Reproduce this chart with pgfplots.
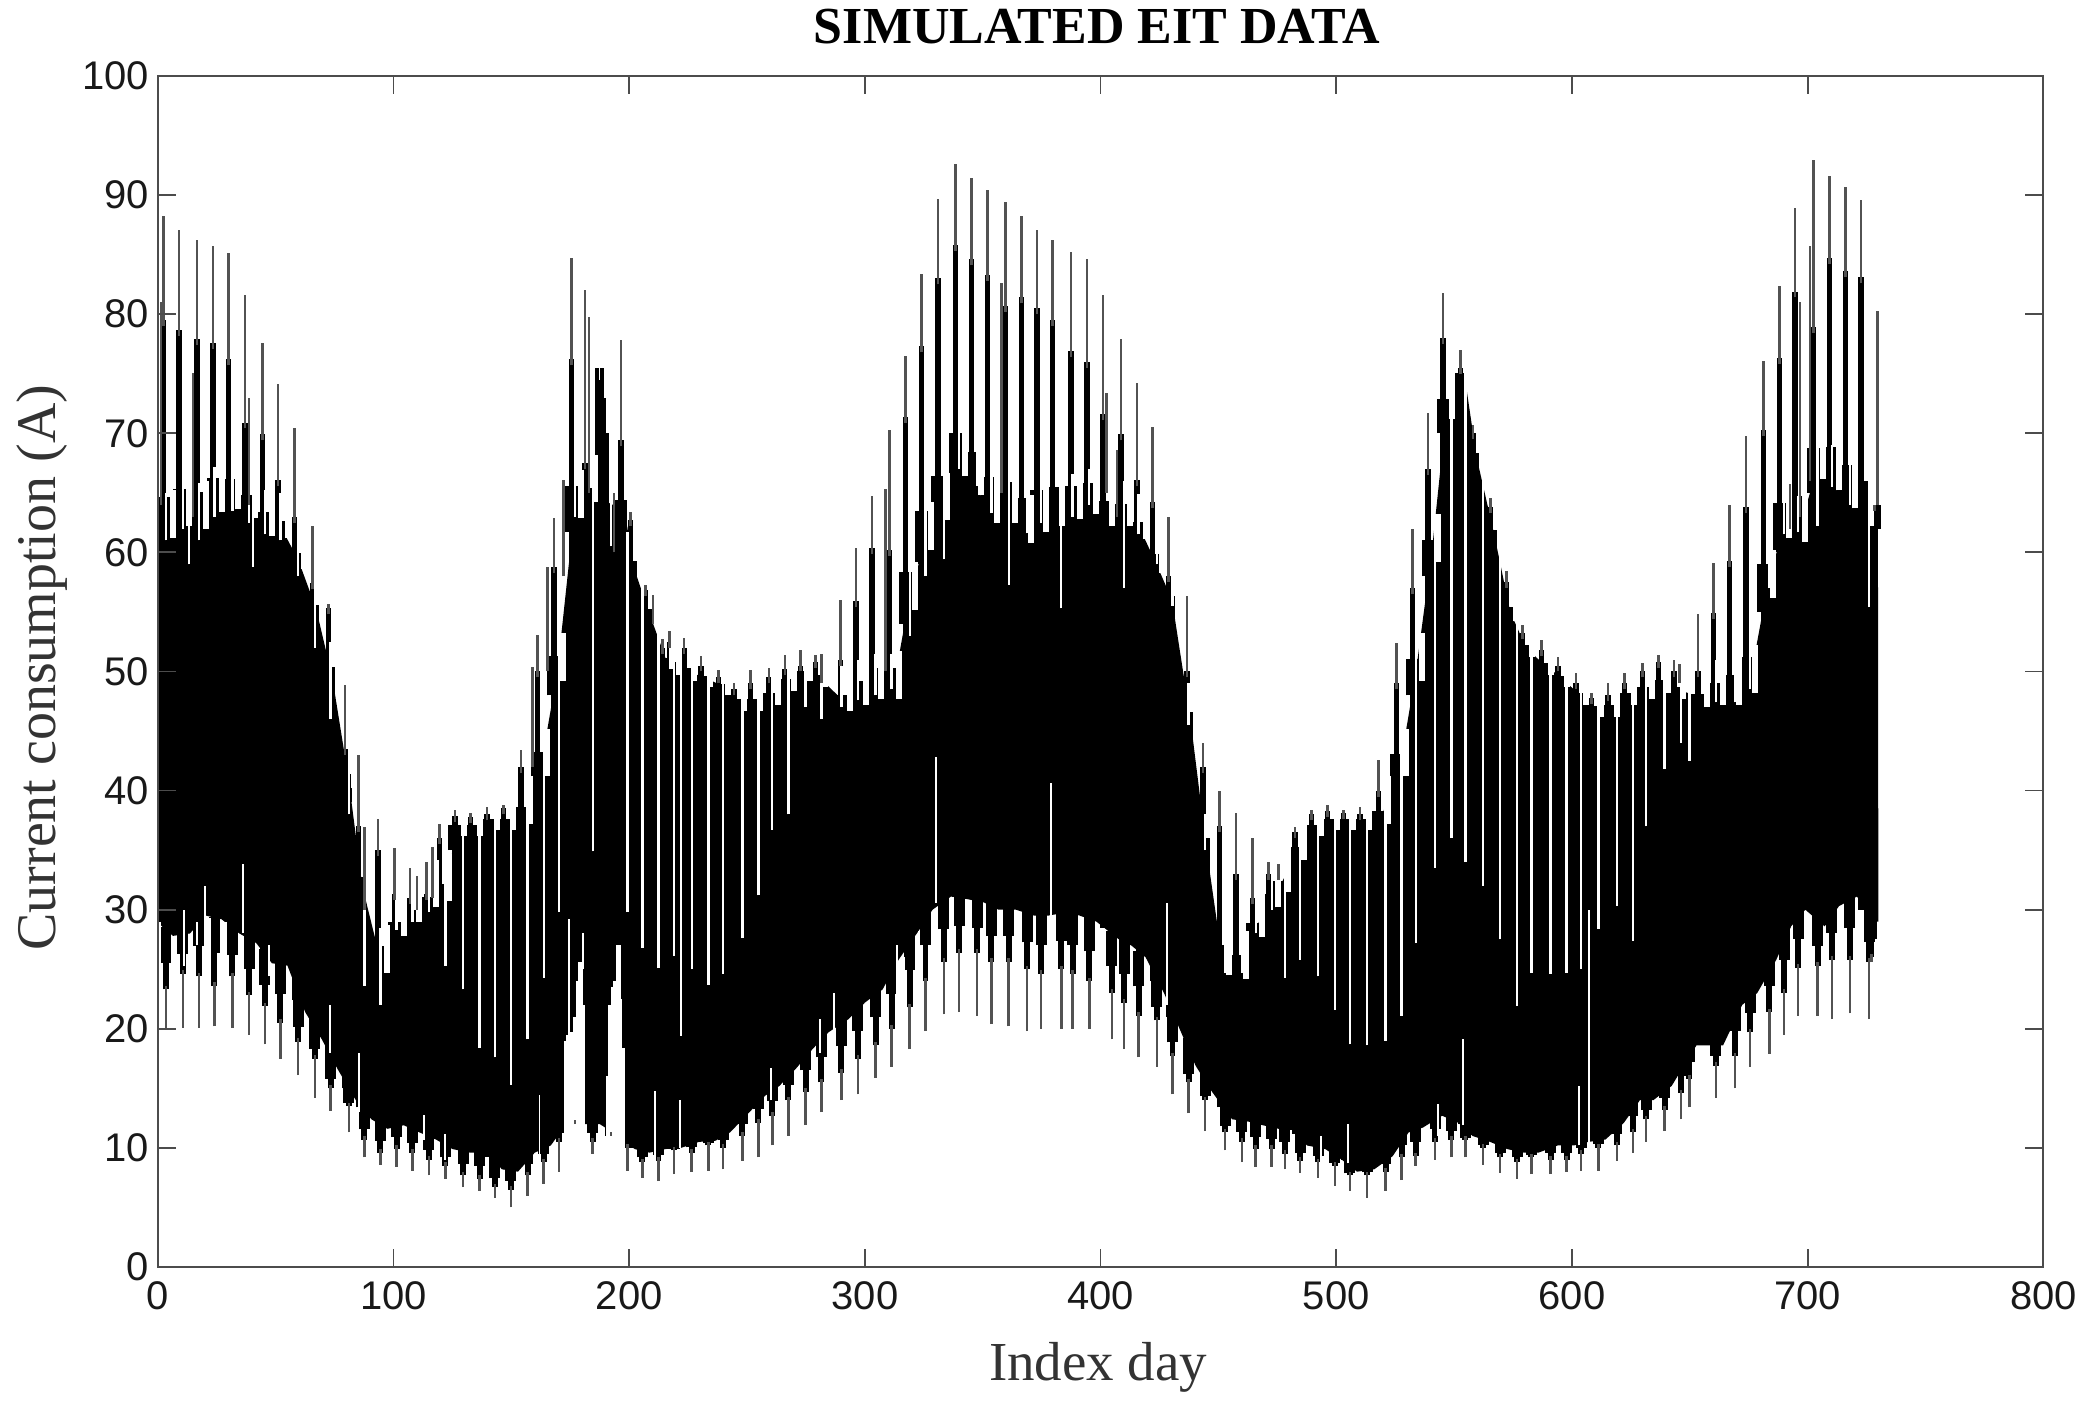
\documentclass[border=0pt]{standalone}
\usepackage{fontspec}
\setmainfont{Liberation Serif}
\newfontfamily\arial{Liberation Sans}
\usepackage{pgfplots}
\usepackage{pgfplotstable}
\pgfplotsset{compat=1.18}
\usepgfplotslibrary{fillbetween}

% one row per week: top spike, column, body top, low day (gap bottom, low spike, low column, body bottom)
\pgfplotstableread{
sx T S H gx G M L U
-4.7 64 64 63.5 -3.6 63 25 27 29
2.3 88.2 79.5 62 3.4 61 20.1 23.3 27.8
9 87.1 78.7 63 10.6 62 20.1 24.6 28
16.5 86.2 77.9 62.8 17.4 61 20.1 24.4 29.5
23.4 85.7 77.6 64.2 24 63 20.2 23.6 29.2
30 85.1 76.2 64.4 31.6 63.5 20.1 24.4 28
37 81.6 70.9 63.7 38.7 62.5 19.5 22.8 27.2
44.4 77.6 69.9 62.2 45.4 61.5 18.7 21.9 25.5
51 74.1 66.1 62 52 61 17.5 20.5 25.3
58 70.4 63 59.4 59.5 58 16.1 18.9 21.4
65.6 62.2 57.4 55.3 66.6 52 14.2 17.5 19.1
72.5 55.7 55.3 49.5 73.3 46 13.1 15 16.6
79.4 48.9 43.5 41 81 38 11.3 13.5 14
85.2 43 37 32 87.6 23.6 9.2 10.7 12.4
93.3 37.6 35 25.5 94.4 22 8.6 9.6 11.6
100.4 35.2 31.3 28.6 101.3 28.3 8.4 9.9 11.9
107 33.5 31 29.8 108 29 8.1 9.6 11.3
114 34 31.3 31 115 29.8 7.7 9 10.7
119.5 37.2 36 31.5 122 25.3 7.4 8.5 9.9
126 38.4 37.9 37 129.5 23.3 6.7 7.7 9.6
132.7 38.1 37.8 37 136.5 18.4 6.4 7.4 9.6
139.7 38.6 38 37.5 143 17.6 5.8 6.7 8.2
146.6 38.8 38.5 37.5 149.8 15.3 5 6.5 8
154 43.4 42 38 156.9 19.1 6 7.7 9.6
161 53.1 50 42 163.7 24.3 7 8.8 10.2
168 62.9 58.8 50 170.3 29.8 8 10.5 12
175.4 84.7 76.2 63.7 177 63 12 12 12
181.3 82 67.5 65 184.5 34.9 9.5 10.5 12
196.5 77.8 69.4 63.5 192.2 60.5 11 11 11
200.5 63.4 62.7 58.7 199.3 29.8 8.1 10 9.9
206.8 57.3 56.8 55 205.6 26.8 7.5 8.8 9.6
214.1 52.7 52 51 212.4 25.1 7.2 8.9 9.9
217 53.4 52.5 50.5 219 26.1 7.8 9.8 10
223.3 52.8 52 50 226.5 25 8 9.6 10.5
230.4 51.3 50.5 49.5 233.6 23.7 8.1 10.2 10.6
237.8 50.1 49.5 48.8 239.8 24.6 8.2 10 11.3
244.5 49 48.5 47.5 248 27.6 8.9 11 13
251.5 50.1 49 47.5 254.8 31.2 9.2 12.1 14.4
259.3 50.3 49.5 48 260.7 36.7 10.2 12.7 15.2
266 51.4 50.2 49.2 267.5 38 11 14 16.6
272.7 51.8 50.5 50 274.8 47 11.9 14.7 18.3
279 51.4 50.8 49.5 281.5 46 13 15.5 19.7
289.6 56 51 47.5 290 47 14 16.3 20.8
296.3 60.4 55.9 48 297 47.6 14.5 17.5 22.2
303 64.7 60.4 48.5 304.5 48 15.9 18.6 23.3
310.4 70.3 60.2 48.5 311.3 48.5 16.8 20 25.8
317.2 76.5 71.4 56 319 53 18.3 21.8 28
324 83.4 77.3 61 325.7 58 19.8 24 30
330.9 89.7 83 63.5 333.5 59.4 21.2 25.6 31.1
338.4 92.6 85.8 67.2 340 67 21.4 26.4 30.9
345.2 91.4 84.6 65.6 347.6 65.6 21.1 26.4 30.6
352 90.4 83.3 63.3 353.7 63.3 20.4 25.6 30
359.6 89.4 80.7 63.3 361 57.3 20.2 25.6 30
366.4 88.2 81.4 61.6 368.8 61.6 19.8 25 29.5
373 87.1 80.5 62.5 374.8 62.5 20 24.6 29.5
379.6 86.2 79.5 63 383.3 55.3 20 25 29.8
387.4 85.2 76.9 63.6 388.1 63 20 24.6 29.5
394.2 84.6 76 64 395.2 64 20 24 29
401 81.6 71.6 63 404.8 62.5 19.1 23 27.5
408.6 77.9 69.9 63 410 57 18.3 22.2 27
415.4 74.2 66.1 61.9 416.1 61.5 17.6 21.1 26
422 70.5 64.2 59.1 423.9 59 16.8 20.7 23
428.8 63 58 56 430.5 55.5 14.5 17.7 20
436.6 56.3 50 46 437.3 45.5 12.9 15.5 16.9
443.5 44 42 35 444.3 35 11.4 14 14.7
450.5 40 37 25.3 452.8 24.7 9.8 11.3 12.4
457.5 38.1 33 25 459.9 24.7 8.8 10.5 12.2
464.4 36 31 28.5 465.8 28 8.4 9.9 11.9
471.2 34 33 31 472.6 30 8.4 9.9 11.6
475.4 33.8 33 32.3 478.2 24.3 8.2 9.5 11.5
482.5 36.9 36.5 35 484.6 25.8 7.9 8.9 10.2
489.5 38.4 38 37 492.3 24.4 7.5 8.8 9.9
496.2 38.8 38.3 37.5 499.4 21.6 6.8 8.5 9
503 38.4 38.1 37.5 505.8 18.7 6.4 7.7 8
510 38.6 38 37.5 513.1 18.6 5.8 7.7 8.2
518 42.6 40 38 520.9 19 6.4 8 9.3
525.5 52.4 49 42 527.7 21.1 7.3 9.2 11.3
532.3 62 57 50 533.7 27.2 8.5 9.3 11.7
539 71.7 67 60 541.9 33.5 9 10.5 12.7
545.3 81.8 78 72 548.8 36 9.2 10.7 12.1
552.8 77 75.5 75 554.8 34 9.2 10.7 11
558 70.7 70 68 562.3 32 8.6 10 10.5
565.5 64.6 63.8 61.5 569.5 27.5 7.9 9.2 9.9
572.3 58.4 57.5 55 576.7 21.9 7.4 8.8 9.6
579 53.9 53.2 52 582.8 24.7 7.8 9.2 9.6
587 52.6 51.8 50.5 590.9 24.6 7.8 9 10.2
594 51.2 50.5 49.5 597.7 24.7 8 9 10.2
601.8 49.9 49 48 603.9 25 8.1 9.5 10.5
608.2 48.2 47.8 47 611.2 28.4 8.1 10 10.7
615.2 49 48 47 619 30.3 8.9 10.2 12.1
622.3 49.9 49 48 625.8 27.4 9.6 11.3 14
630 50.7 50 48.5 631.5 37 10.5 12.4 14
636.7 51.4 50.8 49 639.3 41.8 11.4 13.2 15.2
643.2 51 50 48.5 646.3 44 12.4 14.6 17.5
653.4 54.8 50 47.8 649.8 42.5 13.4 15.8 18.6
660 59.1 54.9 48 661.1 47.4 14.2 16.9 18.6
666.8 64 59.3 48 669.2 47.4 15 17.7 22
673.8 69.8 63.8 49 675.6 48.5 16.8 19.7 23
681.3 76.1 70.3 57 683.7 57 17.9 21.4 25.8
688 82.4 76.3 62 690 61.5 19.5 23 28.6
694.7 88.9 81.9 61.7 696 61.7 21.1 25.1 30
702.4 92.9 78.9 67 704.2 62.2 21.1 25.3 28.6
709.2 91.6 84.7 66 710.3 65.5 20.8 25.8 30.3
716 90.7 83.6 64.5 717.9 64 21.3 25.8 31.1
722.7 89.6 83.1 63 726.1 55.4 20.8 25.6 29
728.3 64 64 64 727 63 25.6 26 29
}\weeks

% second thin spikes
\pgfplotstableread{
x lo hi
1.3 64 81
14.8 63 75.1
38.6 64 73
87.7 30 36.9
110 30 32.8
116.6 31 35.3
159 42 50.4
165.4 50 58.8
172 58 66.1
183 65 79.8
193.6 60 65
210 54 56.4
281.6 49 51.5
308.7 50 65.3
357.9 65 82.6
402.4 65 73.4
406.9 63 68.6
645.6 49 50.6
692.5 62 65.7
696.7 63 81
701 66 85.7
729.6 64 80.3
}\thin

% thick block around day 188
\pgfplotstableread{
x lo hi
186.5 40 75.5
187.5 40 74.5
188.5 40 75.5
189.5 40 73
190.5 40 70
}\block

% single white lines inside the body
\pgfplotstableread{
x lo hi
13.3 59 66
40.4 58.8 66
1 24 29
11 25.3 30
16.5 27 29
20 25.5 32
22 24 29.3
29 24 29
36 28 33.8
47 24.4 27
73 18 22
85.2 13 18
113 10.7 12.8
122 9 11.2
161.9 9 14.4
174.6 19 29.2
180.2 25 28
210.9 8.8 14.8
221.9 19.4 52
221.5 10 14
260 14 16.7
281 18 20.8
286.9 19.7 23
313.6 22.5 27
316.5 22 26
322.9 27 28.2
330 30.6 42.8
379 29.5 40.6
428 22 30.6
493.6 8 11
505 8.7 12
543 11 13.7
553.6 11.9 19.1
603 10.2 15.2
607.1 9.5 30
}\whites

% the two white notches under the body near days 177 and 194
\pgfplotstableread{
x hi
172.9 19
173.9 19.5
174.9 19.7
175.9 19.7
176.9 21
177.9 24
178.9 25.6
179.9 25.6
180.7 22
190.8 16
191.8 22
192.8 23.5
193.8 24
194.8 27
195.8 27
196.5 22.5
197.5 18.4
}\notches

\pgfplotsset{vbar/.style n args={2}{draw=none, mark=none, forget plot,
    error bars/.cd, y dir=plus, y explicit, error mark=none,
    error bar style={line width=#1, draw=#2, solid}}}
\definecolor{axisgrey}{gray}{0.3}
\definecolor{spike}{gray}{0.32}

\begin{document}
\begin{tikzpicture}
\begin{axis}[
    at={(63.2pt,56pt)}, anchor=south west,
    scale only axis, width=754.8pt, height=476.8pt,
    xmin=0, xmax=800, ymin=0, ymax=100,
    xtick distance=100, ytick distance=10,
    tick align=inside, tickwidth=7.2pt,
    axis line style={line width=0.8pt, axisgrey},
    every tick/.style={line width=0.7pt, axisgrey},
    axis on top,
    /pgf/number format/assume math mode=true,
    tick label style={font=\arial\fontsize{16}{16}\selectfont, black!90},
    xticklabel style={yshift=-2.5pt},
    title={\textbf{SIMULATED EIT DATA}},
    title style={font=\fontsize{20.8}{22}\selectfont, at={(axis description cs:0.5,1)}, anchor=center, yshift=13.8pt, xshift=-1.5pt},
    xlabel={Index day},
    xlabel style={font=\fontsize{22}{24}\selectfont, at={(axis description cs:0.5,0)}, anchor=center, yshift=-40pt, xshift=-1pt, black!80},
    ylabel={Current consumption (A)},
    ylabel style={font=\fontsize{22.4}{24}\selectfont, at={(axis description cs:0,0.5)}, anchor=center, yshift=46.4pt, xshift=1.5pt, black!80},
]
% body of the band
\addplot[name path=top, draw=none, forget plot] table[x expr=\thisrow{sx}+1.5, y=H] {\weeks};
\addplot[name path=bot, draw=none, forget plot] table[x expr=\thisrow{gx}+3, y=U] {\weeks};
\addplot[black, forget plot] fill between[of=top and bot];
% humps and columns
\addplot[vbar={5.2pt}{black}] table[x=sx, y expr=\thisrow{H}-2, y error plus expr=2+0.15*(\thisrow{S}-\thisrow{H})] {\weeks};
\addplot[vbar={2.2pt}{black}] table[x=sx, y expr=\thisrow{U}+1, y error plus expr=\thisrow{S}-\thisrow{U}-1] {\weeks};
\addplot[vbar={1.6pt}{black}] table[x=x, y=lo, y error plus expr=\thisrow{hi}-\thisrow{lo}] {\block};
% low columns
\addplot[vbar={4.4pt}{black}] table[x=gx, y expr=0.5*(\thisrow{L}+\thisrow{U}), y error plus expr=3] {\weeks};
\addplot[vbar={2.4pt}{black}] table[x=gx, y=L, y error plus expr=\thisrow{U}-\thisrow{L}+3] {\weeks};
% dips of the body top between the columns
\addplot[vbar={2.4pt}{white}] table[x expr=\thisrow{sx}+4, y expr=\thisrow{H}-0.8, y error plus expr=4] {\weeks};
% white lines
\addplot[vbar={0.95pt}{white}] table[x=gx, y=G, y error plus expr=\thisrow{H}-\thisrow{G}+3] {\weeks};
\addplot[vbar={0.75pt}{white}] table[x=x, y=lo, y error plus expr=\thisrow{hi}-\thisrow{lo}] {\whites};
\addplot[vbar={1.15pt}{white}] table[x=x, y expr=0, y error plus expr=\thisrow{hi}] {\notches};
% thin spikes
\addplot[vbar={1pt}{spike}] table[x=sx, y expr=\thisrow{S}-0.5, y error plus expr=\thisrow{T}-\thisrow{S}+0.5] {\weeks};
\addplot[vbar={1pt}{spike}] table[x=x, y=lo, y error plus expr=\thisrow{hi}-\thisrow{lo}] {\thin};
\addplot[vbar={1pt}{spike}] table[x=gx, y=M, y error plus expr=\thisrow{L}-\thisrow{M}+0.3] {\weeks};
\end{axis}
\path (0,0) rectangle (834pt,563.2pt);
\end{tikzpicture}
\end{document}
